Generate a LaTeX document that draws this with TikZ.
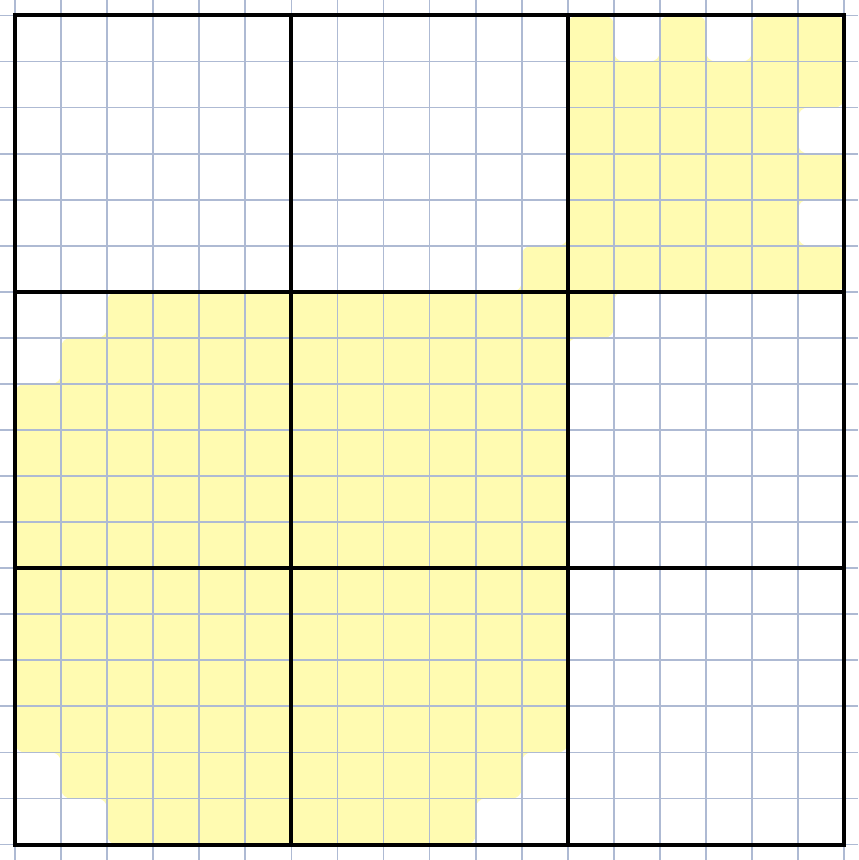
\documentclass[tikz,border=0pt]{standalone}
\usepackage{tikz}
\definecolor{gridColor}{HTML}{AEBAD3}
\definecolor{markColor}{HTML}{FFFA9E}

\begin{document}
\begin{tikzpicture}[
    x=1cm, y=1cm,
    thinline/.style={draw=gridColor, line width=1.1pt},
    blockline/.style={draw=black, line width=2.4pt, line cap=rect},
    highlight/.style={fill=markColor, fill opacity=0.8, rounded corners=6pt},
  ]

  % Frame
  \useasboundingbox[fill=white] (-0.326,-0.335) rectangle (18.304,18.335);

  % Highlighted area
  \path[highlight] (12,18) -- (13,18) -- (13,17) -- (14,17) -- (14,18) -- (15,18)
    -- (15,17) -- (16,17) -- (16,18) -- (18,18) -- (18,16) -- (17,16) -- (17,15)
    -- (18.05,15) -- (18.05,14) -- (17,14) -- (17,13) -- (18,13) -- (18,12)
    -- (13,12) -- (13,11) -- (12,11) -- (12,2) -- (11,2) -- (11,1) -- (10,1)
    -- (10,0) -- (2,0) -- (2,1) -- (1,1) -- (1,2) -- (0,2) -- (0,10) -- (1,10)
    -- (1,11) -- (2,11) -- (2,12) -- (11,12) -- (11,13) -- (12,13) -- cycle;

  % Fine grid
  \foreach \i in {0,...,18} {
    \draw[thinline] (\i,-0.335) -- (\i,18.335);
    \draw[thinline] (-0.326,\i) -- (18.304,\i);
  }

  % Block lines
  \foreach \i in {0,6,12,18} {
    \draw[blockline] (\i,0) -- (\i,18);
    \draw[blockline] (0,\i) -- (18,\i);
  }

\end{tikzpicture}
\end{document}
